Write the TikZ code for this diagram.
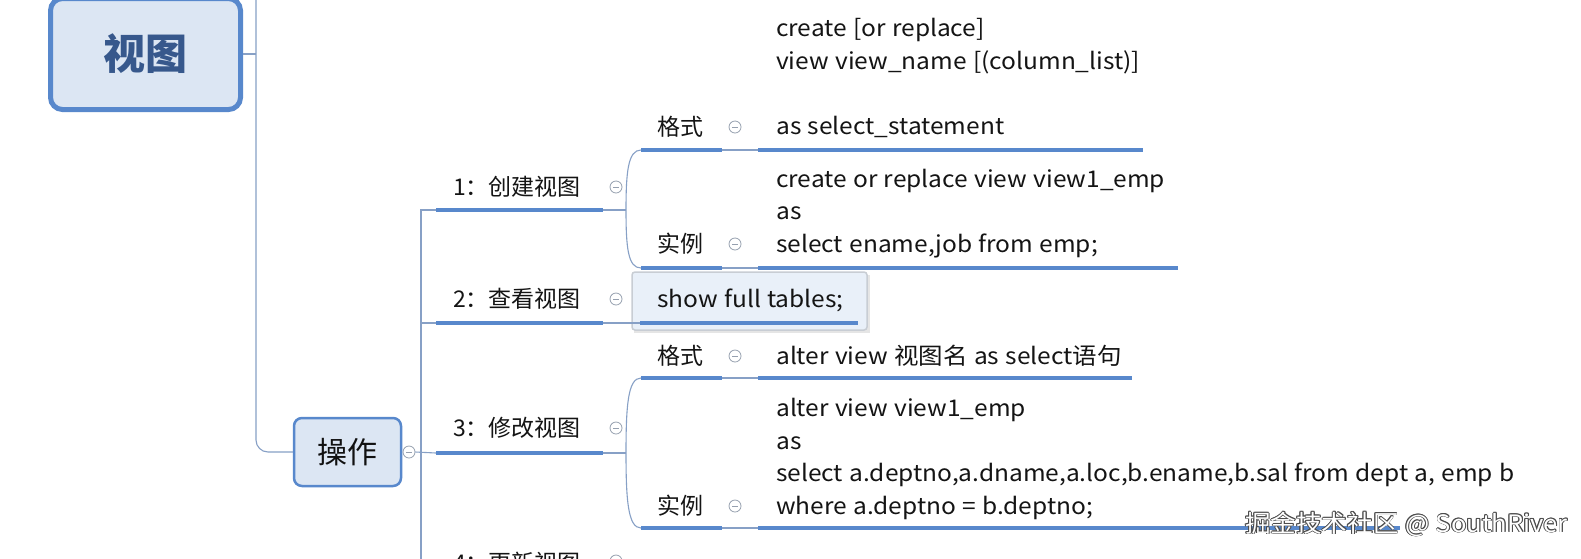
\documentclass[tikz,border=0pt]{standalone}
\usepackage{fontspec}
\setmainfont{Noto Sans CJK SC}
\newfontfamily\widefont{Noto Sans CJK SC}[FakeStretch=1.065, WordSpace=1.15]
\definecolor{ublue}{RGB}{88,136,204}
\definecolor{lblue}{RGB}{135,160,198}
\definecolor{cgray}{RGB}{150,160,175}
\definecolor{boxfill}{RGB}{220,230,243}
\definecolor{txt}{RGB}{20,20,20}
\definecolor{roottxt}{RGB}{55,88,140}
\definecolor{selfill}{RGB}{233,240,249}
\definecolor{selborder}{RGB}{200,205,212}
\begin{document}
\begin{tikzpicture}[x=1pt,y=-1pt,
  uline/.style={line width=4pt, draw=ublue},
  conn/.style={line width=1.1pt, draw=lblue},
  lbl/.style={anchor=base west, inner sep=0pt, align=left, font=\fontsize{23}{32.5}\selectfont, text=txt},
  cnt/.style={lbl, font=\widefont\fontsize{23}{32.5}\selectfont},
  cbtn/.style={circle, draw=cgray, fill=white, line width=0.8pt, minimum size=12pt, inner sep=0pt,
    path picture={\draw[cgray,line width=0.8pt] ([xshift=-3pt]path picture bounding box.center) -- ([xshift=3pt]path picture bounding box.center);}},
  rootbox/.style={draw=ublue, fill=boxfill, line width=5pt, rounded corners=12pt, minimum width=190pt, minimum height=111pt, font=\fontsize{42}{42}\selectfont\bfseries, text=roottxt},
  opsbox/.style={draw=ublue, fill=boxfill, line width=2.5pt, rounded corners=8pt, minimum width=107pt, minimum height=68pt, font=\fontsize{30}{30}\selectfont, text=txt!85!black},
  selbox/.style={draw=selborder, fill=selfill, line width=1.5pt, rounded corners=3pt, minimum width=235pt, minimum height=58pt},
  wm/.style={anchor=base west, inner sep=0pt, font=\widefont\fontsize{24}{24}\selectfont}
]
\useasboundingbox (0,0) rectangle (1581,558);
\fill[white] (0,0) rectangle (1581,558);

% root
\node[rootbox] (root) at (145.5,54) {视图};
\coordinate (rtop) at (256,-10);
\coordinate (rj) at (256,54);
\draw[conn] (root.east) -- (rj);
\node[opsbox] (ops) at (347.5,452) {操作};
\draw[conn, rounded corners=12pt] (rtop) -- (256,452) -- (ops.west);
\node[cbtn] (b0) at (409,452) {};

% trunk of level 2
\coordinate (t1) at (421,210);
\coordinate (t4) at (421,575);
\coordinate (u1a) at (436,210); \coordinate (u1b) at (603,210);
\coordinate (u2a) at (436,323); \coordinate (u2b) at (603,323);
\coordinate (u3a) at (436,453); \coordinate (u3b) at (603,453);
\draw[conn] (u1a) -- (t1) -- (t4);
\draw[conn] (421,323) -- (u2a);
\draw[conn] (b0.east) -- (u3a);

% level 2
\node[lbl] (n1) at (453,195) {1：创建视图};
\draw[uline] (u1a) -- (u1b);
\node[cbtn] (b1) at (616,187) {};
\node[lbl] (n2) at (453,307) {2：查看视图};
\draw[uline] (u2a) -- (u2b);
\node[cbtn] (b2) at (616,299) {};
\node[lbl] (n3) at (453,436) {3：修改视图};
\draw[uline] (u3a) -- (u3b);
\node[cbtn] (b3) at (616,428) {};
\node[lbl] (n4) at (453,571) {4：更新视图};
\node[cbtn] (b4) at (616,561) {};

% bracket 1
\coordinate (g1a) at (641,150); \coordinate (g1b) at (722,150);
\coordinate (s1a) at (641,268); \coordinate (s1b) at (722,268);
\draw[conn] (u1b) -- (626,210);
\draw[conn] (g1a) .. controls (628,150) and (626,172) .. (626,210) .. controls (626,248) and (628,268) .. (s1a);

\node[lbl] (g1) at (657,135) {格式};
\draw[uline] (g1a) -- (g1b);
\node[cbtn] (bg1) at (735,127) {};
\coordinate (c1a) at (758,150); \coordinate (c1b) at (1143,150);
\draw[conn] (g1b) -- (c1a);
\node[cnt] (c1) at (776,134) {create [or replace]\\view view\_name [(column\_list)]\\\mbox{}\\as select\_statement};
\draw[uline] (c1a) -- (c1b);

\node[lbl] (s1) at (657,252) {实例};
\draw[uline] (s1a) -- (s1b);
\node[cbtn] (bs1) at (735,244) {};
\coordinate (d1a) at (758,268); \coordinate (d1b) at (1178,268);
\draw[conn] (s1b) -- (d1a);
\node[cnt] (d1) at (776,252) {create or replace view view1\_emp\\as\\select ename,job from emp;};
\draw[uline] (d1a) -- (d1b);

% level 3 for 2
\fill[black!10] (634,275) rectangle (870,333);
\node[selbox] (showbox) at (749.5,301) {};
\coordinate (w1a) at (640,323); \coordinate (w1b) at (858,323);
\draw[conn] (u2b) -- (w1a);
\node[cnt] (show) at (657,307) {show full tables;};
\draw[uline] (w1a) -- (w1b);

% bracket 3
\coordinate (g2a) at (641,378); \coordinate (g2b) at (722,378);
\coordinate (s2a) at (641,528); \coordinate (s2b) at (722,528);
\draw[conn] (u3b) -- (626,453);
\draw[conn] (g2a) .. controls (628,378) and (626,405) .. (626,453) .. controls (626,500) and (628,528) .. (s2a);

\node[lbl] (g2) at (657,364) {格式};
\draw[uline] (g2a) -- (g2b);
\node[cbtn] (bg2) at (735,356) {};
\coordinate (c2a) at (758,378); \coordinate (c2b) at (1132,378);
\draw[conn] (g2b) -- (c2a);
\node[cnt] (c2) at (776,364) {alter view 视图名 as select语句};
\draw[uline] (c2a) -- (c2b);

\node[lbl] (s2) at (657,514) {实例};
\draw[uline] (s2a) -- (s2b);
\node[cbtn] (bs2) at (735,506) {};
\coordinate (d2a) at (758,528); \coordinate (d2b) at (1400,528);
\draw[conn] (s2b) -- (d2a);
\node[cnt] (d2) at (776,514) {alter view view1\_emp\\as\\select a.deptno,a.dname,a.loc,b.ename,b.sal from dept a, emp b\\where a.deptno = b.deptno;};
\draw[uline] (d2a) -- (d2b);

% watermark
\foreach \dx/\dy in {-0.9/0,0.9/0,0/-0.9,0/0.9,0.7/0.7,-0.7/-0.7,0.7/-0.7,-0.7/0.7}{
  \node[wm, text=black!70] at (1245+\dx,532+\dy) {掘金技术社区 @ SouthRiver};
}
\node[wm, text=white] (wmark) at (1245,532) {掘金技术社区 @ SouthRiver};
\end{tikzpicture}
\end{document}
